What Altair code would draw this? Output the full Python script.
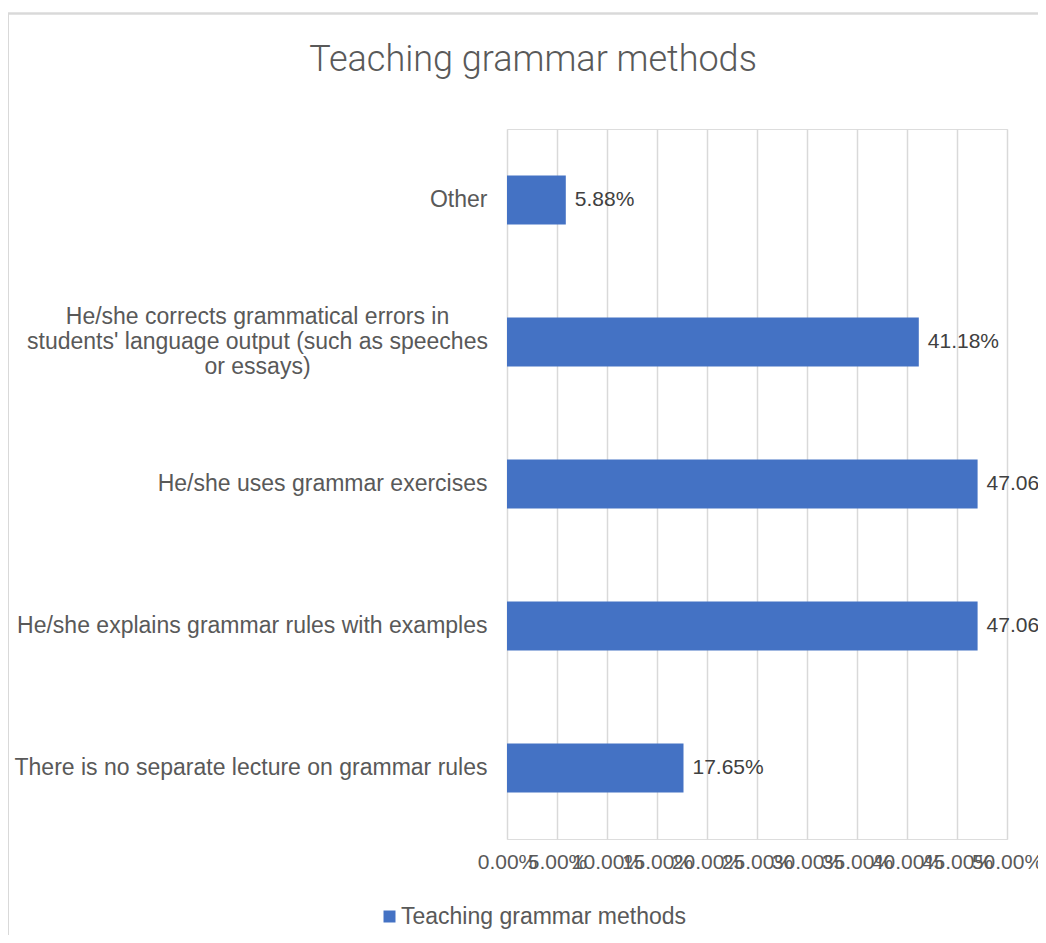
import altair as alt
import pandas as pd

title_text = "Teaching grammar methods"
series_name = "Teaching grammar methods"
categories = [
    "Other",
    "He/she corrects grammatical errors in\nstudents' language output (such as speeches\nor essays)",
    "He/she uses grammar exercises",
    "He/she explains grammar rules with examples",
    "There is no separate lecture on grammar rules",
]
values_pct = [5.88, 41.18, 47.06, 47.06, 17.65]
x_ticks_pct = [0, 5, 10, 15, 20, 25, 30, 35, 40, 45, 50]

df = pd.DataFrame({
    "cat": categories,
    "val": [v / 100 for v in values_pct],
    "series": [series_name] * len(categories),
})

FONT = "Liberation Sans"
GRAY = "#595959"
MULTI = "indexof(datum.value, '\\n') >= 0"

y_enc = alt.Y(
    "cat:N",
    sort=categories,
    title=None,
    scale=alt.Scale(paddingInner=0.655, paddingOuter=0.3275),
    axis=alt.Axis(
        domain=False,
        ticks=False,
        labelFont=FONT,
        labelFontSize=23,
        labelColor=GRAY,
        labelLimit=600,
        labelLineHeight=25,
        labelExpr="split(datum.label, '\\n')",
        labelAlign={"condition": {"test": MULTI, "value": "center"}, "value": "right"},
        labelPadding={"condition": {"test": MULTI, "value": 250}, "value": 20},
        labelOffset={"condition": {"test": MULTI, "value": -25}, "value": 0},
    ),
)

x_enc = alt.X(
    "val:Q",
    title=None,
    scale=alt.Scale(domain=[0, 0.5], nice=False),
    axis=alt.Axis(
        values=[t / 100 for t in x_ticks_pct],
        format=".2%",
        domain=False,
        ticks=False,
        grid=True,
        gridColor="#d9d9d9",
        gridWidth=1.5,
        labelFont=FONT,
        labelFontSize=21,
        labelColor=GRAY,
        labelPadding=12,
        labelOverlap=False,
        labelFlush=False,
    ),
)

bars = alt.Chart(df).mark_bar(color="#4472C4").encode(
    y=y_enc,
    x=x_enc,
    color=alt.Color(
        "series:N",
        scale=alt.Scale(range=["#4472C4"]),
        legend=alt.Legend(
            title=None,
            orient="none",
            legendX=-129,
            legendY=776,
            padding=0,
            symbolType="square",
            symbolSize=144,
            symbolStrokeWidth=0,
            labelFont=FONT,
            labelFontSize=23,
            labelColor=GRAY,
            labelOffset=0,
            labelLimit=400,
        ),
    ),
)

labels = alt.Chart(df).mark_text(
    align="left", baseline="middle", dx=9, font=FONT, fontSize=21, color="#404040"
).encode(
    y=alt.Y("cat:N", sort=categories),
    x="val:Q",
    text=alt.Text("val:Q", format=".2%"),
)

frame = alt.Chart(df).mark_rect(fill=None, stroke="#d9d9d9", strokeWidth=1.5).encode(
    x=alt.value(-499), x2=alt.value(700), y=alt.value(-115.5), y2=alt.value(900)
)

chart = alt.layer(frame, bars, labels).properties(
    width=500,
    height=710,
    padding={"left": 499, "top": 121, "right": 31, "bottom": 96},
    autosize=alt.AutoSizeParams(type="none"),
    title=alt.TitleParams(
        title_text,
        font="Roboto",
        fontWeight=300,
        fontSize=36,
        color=GRAY,
        anchor="middle",
        dx=-224,
        offset=-94,
        baseline="alphabetic",
    ),
).configure_view(stroke=None).configure(background="white")

chart.save("out.html", embed_options={"renderer": "svg", "actions": False})
